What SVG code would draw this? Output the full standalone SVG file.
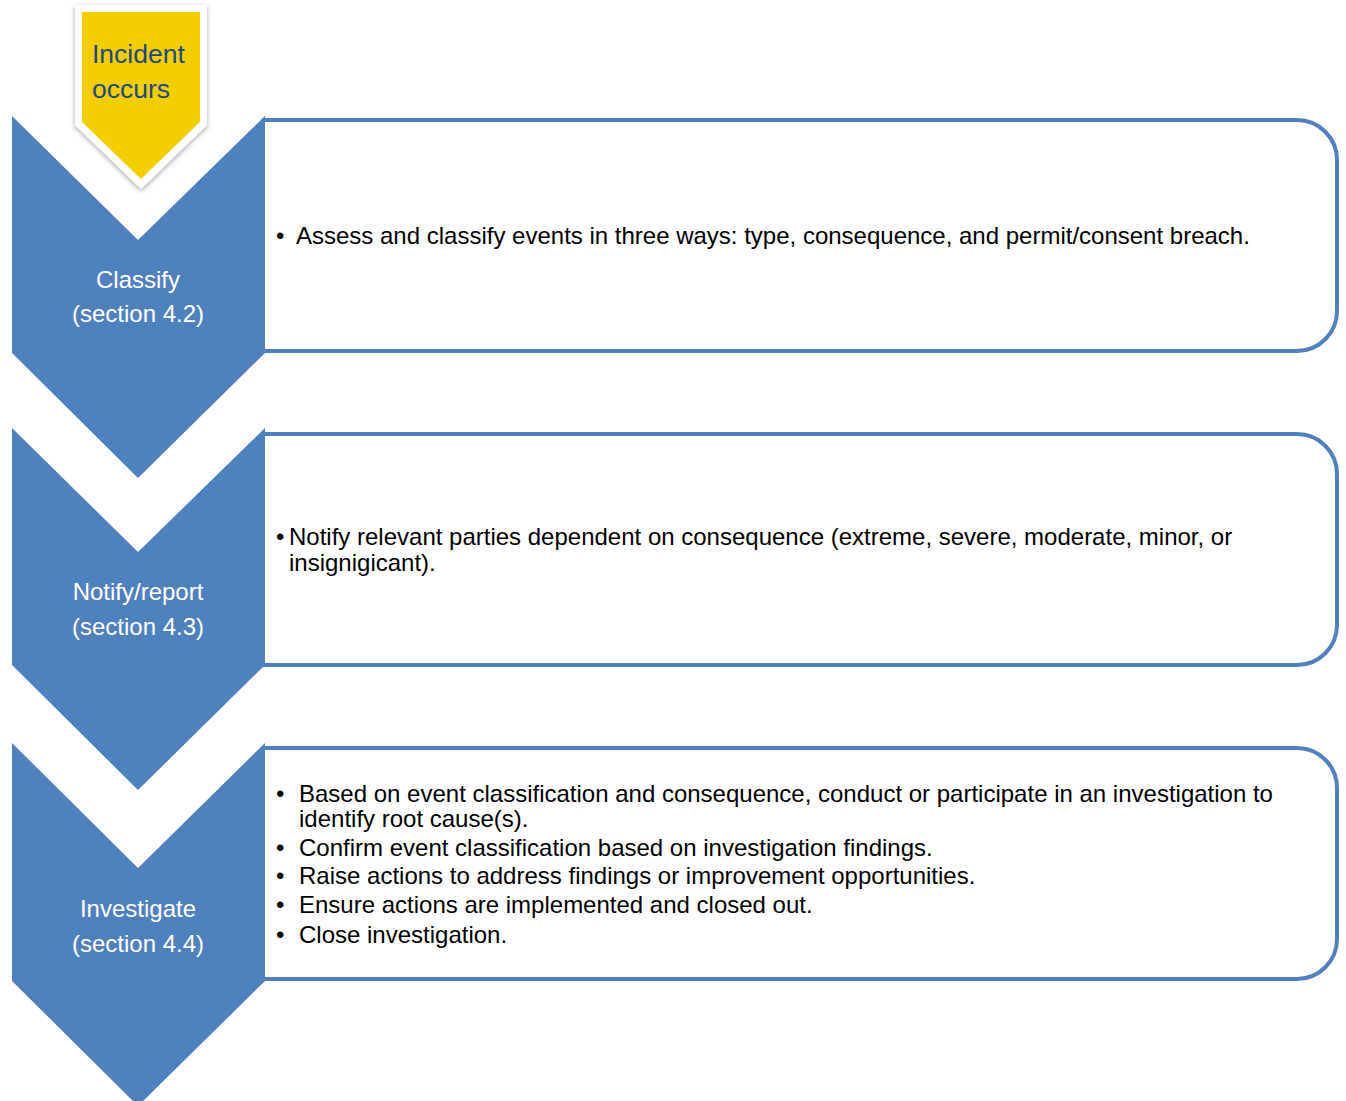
<svg xmlns="http://www.w3.org/2000/svg" width="1346" height="1101" viewBox="0 0 1346 1101">
<style>
.box{fill:#fff;stroke:#4f81bd;stroke-width:4}
.chev{fill:#4f81bd}
.lbl{font-family:"Liberation Sans",Arial,sans-serif;font-size:24px;fill:#fff;text-anchor:middle}
.body{font-family:"Liberation Sans",Arial,sans-serif;font-size:24px;fill:#000}
.inc{font-family:"Liberation Sans",Arial,sans-serif;font-size:26.5px;fill:#1f497d}
</style>
<defs>
<filter id="sh" x="-20%" y="-20%" width="140%" height="140%">
<feDropShadow dx="0" dy="2" stdDeviation="2.5" flood-color="#000" flood-opacity="0.35"/>
</filter>
</defs>
<g id="box1"><path class="box" d="M262,120 H1297 A40,40 0 0 1 1337,160 V311 A40,40 0 0 1 1297,351 H262"/>
<text class="body" x="276" y="244">•</text><text class="body" x="296" y="244">Assess and classify events in three ways: type, consequence, and permit/consent breach.</text></g>
<g id="box2"><path class="box" d="M262,434 H1297 A40,40 0 0 1 1337,474 V625 A40,40 0 0 1 1297,665 H262"/>
<text class="body" x="276" y="545">•</text><text class="body" x="289" y="545">Notify relevant parties dependent on consequence (extreme, severe, moderate, minor, or</text>
<text class="body" x="289" y="571">insignigicant).</text></g>
<g id="box3"><path class="box" d="M262,748 H1297 A40,40 0 0 1 1337,788 V939 A40,40 0 0 1 1297,979 H262"/>
<g class="body">
<text x="276" y="802">•</text><text x="299" y="802">Based on event classification and consequence, conduct or participate in an investigation to</text>
<text x="299" y="827">identify root cause(s).</text>
<text x="276" y="856">•</text><text x="299" y="856">Confirm event classification based on investigation findings.</text>
<text x="276" y="884">•</text><text x="299" y="884">Raise actions to address findings or improvement opportunities.</text>
<text x="276" y="913">•</text><text x="299" y="913">Ensure actions are implemented and closed out.</text>
<text x="276" y="943">•</text><text x="299" y="943">Close investigation.</text>
</g></g>
<g id="classify"><path class="chev" d="M12,116 L138,240 L265,116 L265,353 L138,478 L12,353 Z"/>
<text class="lbl" x="138" y="288">Classify</text><text class="lbl" x="138" y="322">(section 4.2)</text></g>
<g id="notify"><path class="chev" d="M12,428 L138,552 L265,428 L265,665 L138,790 L12,665 Z"/>
<text class="lbl" x="138" y="600">Notify/report</text><text class="lbl" x="138" y="635">(section 4.3)</text></g>
<g id="investigate"><path class="chev" d="M12,743 L138,868 L265,743 L265,981 L138,1106 L12,981 Z"/>
<text class="lbl" x="138" y="917">Investigate</text><text class="lbl" x="138" y="952">(section 4.4)</text></g>
<g id="incident"><path d="M75,5 L207,5 L207,125 L141,189 L75,125 Z" fill="#fff" filter="url(#sh)"/>
<path d="M82,12 L200,12 L200,122 L141,179 L82,122 Z" fill="#f2ce00"/>
<text class="inc" x="92" y="63">Incident</text><text class="inc" x="92" y="98">occurs</text></g>
<g id="connectors"/>
</svg>
